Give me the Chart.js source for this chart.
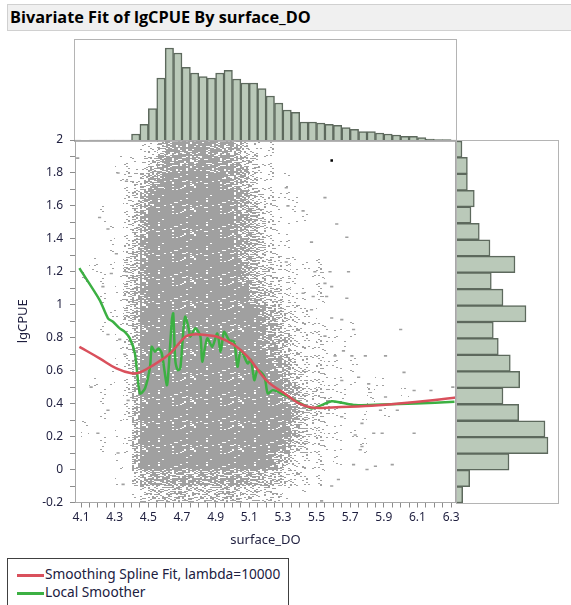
<!DOCTYPE html>
<html>
<head>
<meta charset="utf-8">
<title>Bivariate Fit of lgCPUE By surface_DO</title>
<script src="https://cdn.jsdelivr.net/npm/chart.js@4.4.1/dist/chart.umd.min.js"></script>
<style>
  body { margin: 0; width: 571px; height: 605px; background: #fff; position: relative; overflow: hidden; font-family: "Noto Sans", "Open Sans", sans-serif; }
  .title-bar { position: absolute; left: 7px; top: 4px; width: 570px; height: 25px; background: #f0f0f0; border: 1px solid #d0d0d0; }
  .title-bar span { position: absolute; left: 2px; top: 1px; font: bold 16.3px "Open Sans", sans-serif; color: #000; white-space: nowrap; }
  .panel { position: absolute; border: 1px solid #b4b4b4; }
  #topPanel { left: 74px; top: 39px; width: 381px; height: 101px; }
  #rightPanel { left: 456px; top: 140px; width: 101px; height: 362px; }
  #mainPanel { position: absolute; left: 0; top: 120px; width: 480px; height: 440px; }
  .legend { position: absolute; left: 7px; top: 558px; width: 280px; height: 50px; border: 1px solid #404040; background: #fff; }
  .legend .item { position: absolute; left: 9px; font-size: 13.7px; color: #202040; white-space: nowrap; line-height: 16px; }
  .legend .swatch { display: inline-block; width: 27px; height: 2.5px; vertical-align: middle; margin-right: 1px; }
</style>
</head>
<body>

<div class="title-bar"><span>Bivariate Fit of lgCPUE By surface_DO</span></div>
<div class="panel" id="topPanel"><canvas id="topHist"></canvas></div>
<div class="panel" id="rightPanel"><canvas id="rightHist"></canvas></div>
<div id="mainPanel"><canvas id="mainChart"></canvas></div>
<div class="legend">
  <div class="item" style="top:7px"><span class="swatch" style="background:#d9505c"></span>Smoothing Spline Fit, lambda=10000</div>
  <div class="item" style="top:25px"><span class="swatch" style="background:#3cb043"></span>Local Smoother</div>
</div>

<script>
// Axis ranges and tick labels
const xMin = 4.064, xMax = 6.329;
const yMin = -0.2, yMax = 2;
const xTickLabels = ['4.1', '4.3', '4.5', '4.7', '4.9', '5.1', '5.3', '5.5', '5.7', '5.9', '6.1', '6.3'];
const yTickLabels = ['-0.2', '0', '0.2', '0.4', '0.6', '0.8', '1', '1.2', '1.4', '1.6', '1.8', '2'];

// Smoothing spline fit (red)
const splineX = [4.09, 4.21, 4.31, 4.40, 4.45, 4.53, 4.63, 4.72, 4.77, 4.85, 4.91, 5.01, 5.09, 5.21, 5.31, 5.39, 5.47, 5.59, 5.79, 5.99, 6.19, 6.33];
const splineY = [0.745, 0.675, 0.614, 0.584, 0.59, 0.634, 0.705, 0.806, 0.82, 0.815, 0.806, 0.756, 0.685, 0.533, 0.462, 0.405, 0.377, 0.377, 0.385, 0.401, 0.421, 0.438];

// Local smoother (green)
const smootherX = [4.09, 4.21, 4.26, 4.29, 4.33, 4.36, 4.39, 4.42, 4.45, 4.48, 4.51, 4.52, 4.54, 4.56, 4.58, 4.61, 4.62, 4.64, 4.648, 4.66, 4.675, 4.69, 4.71, 4.72, 4.74, 4.75, 4.78, 4.81, 4.82, 4.85, 4.88, 4.91, 4.93, 4.95, 4.98, 5.01, 5.03, 5.05, 5.09, 5.11, 5.13, 5.15, 5.19, 5.21, 5.24, 5.31, 5.37, 5.47, 5.53, 5.59, 5.65, 5.73, 5.89, 6.09, 6.32];
const smootherY = [1.222, 1.03, 0.918, 0.897, 0.857, 0.836, 0.796, 0.705, 0.462, 0.492, 0.624, 0.745, 0.715, 0.735, 0.705, 0.512, 0.604, 0.908, 0.948, 0.666, 0.604, 0.614, 0.867, 0.928, 0.857, 0.806, 0.857, 0.806, 0.654, 0.796, 0.745, 0.826, 0.715, 0.836, 0.786, 0.776, 0.624, 0.725, 0.644, 0.666, 0.543, 0.604, 0.563, 0.462, 0.482, 0.452, 0.421, 0.371, 0.391, 0.415, 0.405, 0.391, 0.395, 0.401, 0.411];

// Point density of the dense cloud: one row per 0.1 of lgCPUE (top row 1.9-2.0),
// one digit per 0.05 of surface_DO starting at 4.05 (0 = empty, 9 = solid)
const densityStartX = 4.05, densityStepX = 0.05;
const densityTopY = 2.0, densityStepY = 0.1;
const densityRows = [
  '000000001257888887764311',
  '00000111257888888887642100',
  '000001125789999999876421010',
  '0000001368999999999875321110',
  '000100147999999999987642101100',
  '0000101479999999999876421100',
  '0000102589999999999876521100',
  '001010358999999999997643221111',
  '010101358999999999998653221011',
  '000101368999999999999764321101',
  '00001136999999999999998653221',
  '0001012599999999999999875432211101',
  '000001259999999999999987653221101',
  '0000011599999999999999987643221101',
  '0010101599999999999999999753221101001',
  '0001001699999999999999999764322110010001',
  '000100169999999999999999997532211010010',
  '0100010699999999999999999964321101',
  '00010016999999999999999998542211001',
  '00000106999999999999999864321101',
  '0000010367777777777776654332110',
  '000000014555555555554433210100'
];

// Scattered points away from the cloud
const sparseX = [5.32, 5.55, 5.33, 5.42, 5.62, 5.68, 5.47, 5.32, 5.58, 5.69, 5.49, 5.55, 5.59, 5.42, 5.48, 5.56, 5.68, 5.47, 5.59, 5.65, 5.72, 6.00, 5.55, 5.66, 5.71, 5.79, 5.91, 5.61, 6.02, 5.65, 5.81, 5.75, 6.08, 6.18, 6.31, 5.91, 5.98, 5.88, 5.65, 5.77, 5.84, 5.89, 6.08, 5.73, 5.77, 5.76, 5.95, 5.85, 5.72, 5.80, 5.63, 5.59, 5.53,
  4.08, 4.32, 4.37, 4.21, 4.26, 4.31, 4.23, 4.28, 4.37, 4.26, 4.33, 4.36, 4.16, 4.38, 4.26, 4.20, 4.32, 4.35];
const sparseY = [1.71, 1.65, 1.60, 1.57, 1.49, 1.41, 1.38, 1.26, 1.20, 1.20, 1.20, 1.13, 1.11, 1.07, 1.05, 1.05, 1.04, 0.97, 0.92, 0.91, 0.85, 0.85, 0.81, 0.72, 0.69, 0.69, 0.69, 0.69, 0.59, 0.54, 0.52, 0.56, 0.48, 0.48, 0.50, 0.44, 0.36, 0.36, 0.32, 0.28, 0.22, 0.22, 0.22, 0.21, 0.14, 0.12, 0.03, 0.02, 0.03, 0.00, -0.06, -0.10, -0.19,
  1.89, 1.80, 1.75, 1.53, 1.46, 1.31, 1.11, 1.19, 1.20, 0.82, 0.79, 0.70, 0.50, 0.42, 0.36, 0.22, 0.10, -0.09];

// The one highlighted (black) row
const selectedX = [5.59];
const selectedY = [1.876];

// Marginal histogram of surface_DO (bins of 0.05 from 4.05)
const xHistStart = 4.05, xHistBin = 0.05;
const xHistCounts = [1, null, 1, 1, 1, 1, 1, 7, 16.7, 32.4, 63, 93, 88, 73.7, 68, 64.4, 63, 68, 70.7, 62, 58, 58, 52.4, 45, 38, 31, 28.7, 19, 19, 18, 16.7, 15.7, 13.4, 11.7, 9.4, 9.4, 8, 7, 6, 4.7, 4.7, 3.4, 2, 1.5, 1.5, 1];

// Marginal histogram of lgCPUE (bins of 0.1 from -0.2)
const yHistStart = -0.2, yHistBin = 0.1;
const yHistCounts = [5.7, 12.7, 52, 91, 88, 61.7, 46, 62.7, 53.3, 41.3, 36.3, 69, 46, 34.3, 58, 33, 22.3, 14, 17.3, 10.4, 10.4, 5];

// Colors
const pointGray = '#a0a0a0';
const histFill = '#bac9b9';
const histEdge = '#5d695d';
const tickColor = '#1f1f3f';
const frameColor = '#a8a8a8';

const zip = (xs, ys) => xs.map((x, i) => ({ x: x, y: ys[i] }));
const near = (a, b) => Math.abs(a - b) < 1e-6;

// Texture tile for the cloud: 2x1 dashes switched on by a fixed hash threshold,
// so denser cells keep the dashes of lighter cells and add more
function hashThreshold(sx, sy) {
  let h = (sx * 374761393 + sy * 668265263) | 0;
  h = Math.imul(h ^ (h >>> 13), 1274126177);
  h = h ^ (h >>> 16);
  return (h & 0xffff) / 65536;
}
function makeDitherTile(coverage) {
  const tile = document.createElement('canvas');
  tile.width = 48;
  tile.height = 24;
  const c = tile.getContext('2d');
  c.fillStyle = pointGray;
  for (let sy = 0; sy < 24; sy++) {
    for (let sx = 0; sx < 24; sx++) {
      if (hashThreshold(sx, sy) < coverage) c.fillRect(sx * 2, sy, 2, 1);
    }
  }
  return tile;
}

// Draws the dense cloud as textured cells before the datasets
const densityPlugin = {
  id: 'density',
  beforeDatasetsDraw(chart) {
    const { ctx, chartArea, scales } = chart;
    const patterns = [null];
    for (let d = 1; d <= 9; d++) {
      patterns.push(ctx.createPattern(makeDitherTile(Math.pow(d / 9, 1.2) * 0.93), 'repeat'));
    }
    ctx.save();
    ctx.beginPath();
    ctx.rect(chartArea.left, chartArea.top, chartArea.width, chartArea.height);
    ctx.clip();
    densityRows.forEach((row, r) => {
      const yTop = densityTopY - r * densityStepY;
      const py0 = Math.round(scales.y.getPixelForValue(yTop));
      const py1 = Math.round(scales.y.getPixelForValue(yTop - densityStepY));
      for (let c = 0; c < row.length; c++) {
        const d = +row[c];
        if (!d) continue;
        const x0 = densityStartX + c * densityStepX;
        const px0 = Math.round(scales.x.getPixelForValue(x0));
        const px1 = Math.round(scales.x.getPixelForValue(x0 + densityStepX));
        ctx.fillStyle = patterns[d];
        ctx.fillRect(px0, py0, px1 - px0, py1 - py0);
      }
    });
    ctx.restore();
  }
};

// Top and right edges of the plot frame
const framePlugin = {
  id: 'frame',
  afterDraw(chart) {
    const { ctx, chartArea } = chart;
    ctx.save();
    ctx.strokeStyle = frameColor;
    ctx.lineWidth = 1;
    ctx.beginPath();
    ctx.moveTo(chartArea.left, chartArea.top + 0.5);
    ctx.lineTo(chartArea.right - 0.5, chartArea.top + 0.5);
    ctx.lineTo(chartArea.right - 0.5, chartArea.bottom);
    ctx.stroke();
    ctx.restore();
  }
};

// Main scatter plot
function initMainChart() {
  const xMajor = xTickLabels.map(Number);
  const yMajor = yTickLabels.map(Number);
  new Chart(document.getElementById('mainChart'), {
    type: 'scatter',
    data: {
      datasets: [{
        label: 'lgCPUE',
        data: zip(sparseX, sparseY),
        pointStyle: 'line',
        pointRadius: 1.6,
        borderWidth: 1.6,
        borderColor: pointGray,
        backgroundColor: pointGray
      }, {
        label: 'selected',
        data: zip(selectedX, selectedY),
        pointStyle: 'rect',
        pointRadius: 1.8,
        borderWidth: 0,
        backgroundColor: '#000'
      }, {
        type: 'line',
        label: 'Smoothing Spline Fit, lambda=10000',
        data: zip(splineX, splineY),
        borderColor: '#d9505c',
        borderWidth: 2.5,
        pointRadius: 0,
        tension: 0.4,
        fill: false
      }, {
        type: 'line',
        label: 'Local Smoother',
        data: zip(smootherX, smootherY),
        borderColor: '#3cb043',
        borderWidth: 2.5,
        pointRadius: 0,
        tension: 0.25,
        fill: false
      }]
    },
    options: {
      responsive: true,
      maintainAspectRatio: false,
      animation: false,
      layout: { padding: { left: 0, right: 24, top: 20, bottom: 0 } },
      plugins: { legend: { display: false }, tooltip: { enabled: false } },
      scales: {
        x: {
          type: 'linear',
          min: xMin,
          max: xMax,
          afterBuildTicks: scale => {
            const ticks = [];
            for (let v = 4.1; v <= 6.3001; v += 0.05) ticks.push({ value: +v.toFixed(2) });
            scale.ticks = ticks;
          },
          afterFit: scale => { scale.height = 57.5; },
          grid: { drawOnChartArea: false, tickLength: 5, tickColor: '#8c8c8c' },
          border: { color: frameColor },
          ticks: {
            autoSkip: false,
            maxRotation: 0,
            padding: 3,
            color: tickColor,
            font: { family: 'Noto Sans', size: 12 },
            callback: value => {
              const i = xMajor.findIndex(m => near(m, value));
              return i >= 0 ? xTickLabels[i] : '';
            }
          },
          title: {
            display: true,
            text: 'surface_DO',
            color: tickColor,
            font: { family: 'Noto Sans', size: 13 },
            padding: { top: 0, bottom: 12 }
          }
        },
        y: {
          type: 'linear',
          min: yMin,
          max: yMax,
          afterBuildTicks: scale => {
            const ticks = [];
            for (let v = -0.2; v <= 2.0001; v += 0.1) ticks.push({ value: +v.toFixed(1) });
            scale.ticks = ticks;
          },
          afterFit: scale => { scale.width = 75; },
          grid: { drawOnChartArea: false, tickLength: 5, tickColor: '#8c8c8c' },
          border: { color: frameColor },
          ticks: {
            autoSkip: false,
            padding: 7,
            color: tickColor,
            font: { family: 'Noto Sans', size: 12 },
            callback: value => {
              const i = yMajor.findIndex(m => near(m, value));
              return i >= 0 ? yTickLabels[i] : '';
            }
          },
          title: {
            display: true,
            text: 'lgCPUE',
            color: tickColor,
            font: { family: 'Noto Sans', size: 13 },
            padding: { top: 15, bottom: 0 }
          }
        }
      }
    },
    plugins: [densityPlugin, framePlugin]
  });
}

// Marginal histogram on top
function initTopHistogram() {
  new Chart(document.getElementById('topHist'), {
    type: 'bar',
    data: {
      datasets: [{
        data: xHistCounts.map((v, i) => ({ x: xHistStart + (i + 0.5) * xHistBin, y: v })),
        backgroundColor: histFill,
        borderColor: histEdge,
        borderWidth: 1.5,
        barPercentage: 1,
        categoryPercentage: 1
      }]
    },
    options: {
      responsive: true,
      maintainAspectRatio: false,
      animation: false,
      layout: { padding: 0 },
      plugins: { legend: { display: false }, tooltip: { enabled: false } },
      scales: {
        x: { type: 'linear', min: xMin, max: xMax, offset: false, display: false },
        y: { type: 'linear', min: 0, max: 101, display: false }
      }
    }
  });
}

// Marginal histogram on the right
function initRightHistogram() {
  new Chart(document.getElementById('rightHist'), {
    type: 'bar',
    data: {
      datasets: [{
        data: yHistCounts.map((v, i) => ({ y: yHistStart + (i + 0.5) * yHistBin, x: v })),
        backgroundColor: histFill,
        borderColor: histEdge,
        borderWidth: 1.5,
        barPercentage: 1,
        categoryPercentage: 1
      }]
    },
    options: {
      indexAxis: 'y',
      responsive: true,
      maintainAspectRatio: false,
      animation: false,
      layout: { padding: 0 },
      plugins: { legend: { display: false }, tooltip: { enabled: false } },
      scales: {
        y: { type: 'linear', min: yMin, max: yMax, offset: false, display: false },
        x: { type: 'linear', min: 0, max: 101, display: false }
      }
    }
  });
}

initTopHistogram();
initRightHistogram();
initMainChart();
</script>
</body>
</html>
